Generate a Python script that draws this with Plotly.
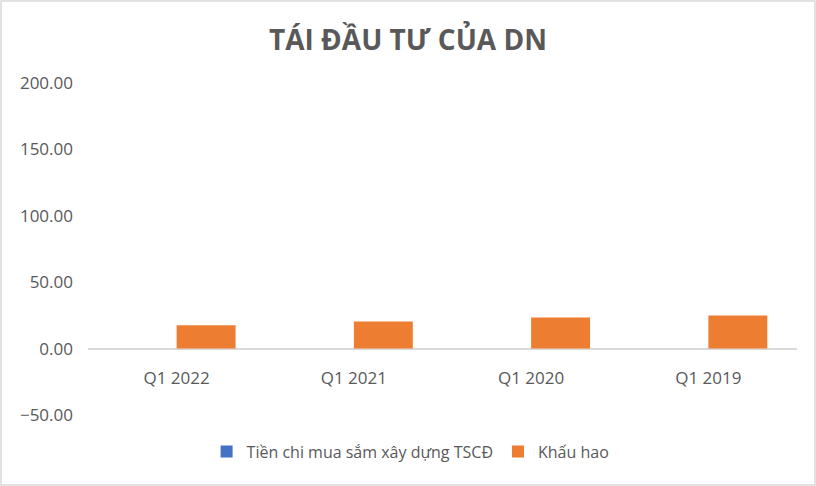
import plotly.graph_objs as go

# Dữ liệu
quy = ["Q1 2022", "Q1 2021", "Q1 2020", "Q1 2019"]
tien_chi_tscd = [0, 0, 0, 0]
khau_hao = [17.5, 20.5, 23.5, 25.0]
y_ticks = [-50, 0, 50, 100, 150, 200]
y_min, y_max = -50, 200

font_chu = "Open Sans, Noto Sans, sans-serif"

fig = go.Figure()
fig.add_trace(go.Bar(
    x=quy, y=tien_chi_tscd, name="Tiền chi mua sắm xây dựng TSCĐ",
    marker=dict(color="#4472C4", line=dict(width=0)),
))
fig.add_trace(go.Bar(
    x=quy, y=khau_hao, name="Khấu hao",
    marker=dict(color="#ED7D31", line=dict(width=0)),
))

fig.update_layout(
    width=816, height=486,
    paper_bgcolor="white", plot_bgcolor="white",
    margin=dict(l=88, r=19, t=83, b=71),
    barmode="group", bargap=0.335, bargroupgap=0,
    title=dict(text="<b>TÁI ĐẦU TƯ CỦA DN</b>", x=0.5, xanchor="center",
               y=0.918, yanchor="middle",
               font=dict(family=font_chu, size=28, color="#595959")),
    font=dict(family=font_chu, size=17, color="#595959"),
    showlegend=True,
    legend=dict(orientation="h", x=0.455, xanchor="center", y=-0.11, yanchor="middle",
                font=dict(size=16, color="#595959"), traceorder="normal",
                itemwidth=30),
    shapes=[dict(type="rect", xref="paper", yref="paper", x0=-87/709, x1=1 + 18/709,
                 y0=-70/332, y1=1 + 82/332, line=dict(color="#D9D9D9", width=1.5))],
)
# trục hoành cắt trục tung tại 0 (kiểu Excel)
fig.update_xaxes(showgrid=False, showline=False, ticks="", zeroline=False,
                 anchor="free", position=(0 - y_min) / (y_max - y_min),
                 ticklabelstandoff=17,
                 tickfont=dict(size=17, color="#595959"))
fig.update_yaxes(range=[y_min, y_max], tickvals=y_ticks, tickformat=".2f",
                 showgrid=False, showline=False, zeroline=True,
                 zerolinecolor="#D9D9D9", zerolinewidth=2, ticks="",
                 ticklabelstandoff=14,
                 tickfont=dict(size=17, color="#595959"))

# bỏ lề mặc định của trang
fig.write_html("out.html", config={"displayModeBar": False},
               post_script="document.body.style.margin='0';")
